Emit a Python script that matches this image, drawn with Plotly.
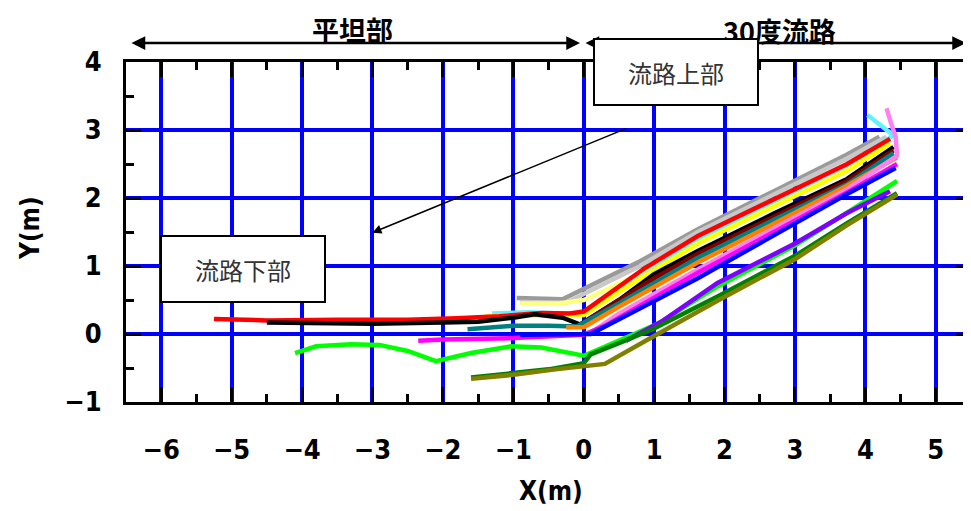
import plotly.graph_objects as go

# ---- data ----
gray_x = [-0.95, -0.6, -0.3, 0.8, 1.62, 2.7, 3.74, 4.2]
gray_y = [0.53, 0.52, 0.51, 1.07, 1.54, 2.1, 2.64, 2.9]
silver_x = [-0.9, -0.25, 0.8, 1.62, 2.7, 3.74, 4.3]
silver_y = [0.47, 0.46, 1.0, 1.5, 2.05, 2.58, 2.9]
red_x = [-5.25, -4.5, -3.5, -2.5, -1.8, -1.2, -0.6, -0.2, 0.0, 0.87, 1.62, 2.7, 3.74, 4.35]
red_y = [0.22, 0.2, 0.21, 0.21, 0.23, 0.26, 0.31, 0.3, 0.33, 0.97, 1.44, 1.98, 2.5, 2.87]
cyan_x = [-1.3, -0.8, -0.3, 0.0, 1.0, 1.62, 2.7, 3.74, 4.4, 4.27, 4.03]
cyan_y = [0.3, 0.32, 0.3, 0.3, 0.95, 1.4, 1.95, 2.48, 2.92, 3.02, 3.22]
ltyellow_x = [-0.9, -0.35, 0.0, 1.0, 1.62, 2.7, 3.74, 4.35]
ltyellow_y = [0.45, 0.45, 0.5, 0.98, 1.36, 1.9, 2.42, 2.8]
yellow_x = [-1.4, -0.8, -0.3, 0.0, 0.5, 1.62, 2.7, 3.74, 4.35]
yellow_y = [0.26, 0.27, 0.27, 0.28, 0.62, 1.33, 1.88, 2.4, 2.8]
black_x = [-4.5, -4.0, -3.0, -2.0, -1.5, -1.0, -0.7, -0.3, -0.05, 0.5, 1.0, 1.62, 2.7, 3.74, 4.4]
black_y = [0.17, 0.16, 0.15, 0.17, 0.18, 0.24, 0.29, 0.24, 0.14, 0.5, 0.88, 1.22, 1.77, 2.28, 2.75]
maroon_x = [0.0, 1.0, 1.62, 2.7, 3.74, 4.4]
maroon_y = [0.17, 0.82, 1.18, 1.73, 2.25, 2.7]
teal_x = [-1.65, -1.3, -1.0, -0.5, -0.1, 0.5, 1.62, 2.7, 3.74, 4.4]
teal_y = [0.07, 0.09, 0.12, 0.12, 0.11, 0.45, 1.12, 1.68, 2.2, 2.66]
orange_x = [-0.25, 0.0, 0.5, 1.62, 2.7, 3.74, 4.45]
orange_y = [0.1, 0.1, 0.4, 1.05, 1.62, 2.18, 2.6]
pink_x = [0.1, 0.5, 1.62, 2.7, 3.74, 4.45, 4.43, 4.38, 4.3]
pink_y = [0.02, 0.3, 0.95, 1.55, 2.13, 2.62, 2.9, 3.05, 3.32]
magenta_x = [-2.35, -2.0, -1.0, -0.5, 0.0, 0.3, 1.62, 2.7, 3.74, 4.45]
magenta_y = [-0.1, -0.08, -0.06, -0.03, -0.01, 0.12, 0.9, 1.5, 2.08, 2.5]
blue_x = [-0.9, 0.1, 1.62, 2.7, 3.74, 4.43]
blue_y = [-0.01, 0.0, 0.82, 1.45, 2.06, 2.44]
lime_x = [-4.1, -3.8, -3.3, -2.9, -2.5, -2.1, -1.6, -1.03, -0.6, -0.2, 0.0, 1.05, 1.9, 3.0, 3.74, 4.45]
lime_y = [-0.28, -0.18, -0.15, -0.16, -0.25, -0.4, -0.28, -0.18, -0.2, -0.28, -0.32, 0.15, 0.7, 1.3, 1.78, 2.25]
purple_x = [0.6, 1.1, 1.9, 3.0, 3.74, 4.35]
purple_y = [-0.1, 0.18, 0.75, 1.33, 1.78, 2.1]
dkgreen_x = [-1.6, -1.0, -0.5, 0.0, 0.1, 0.58, 1.0, 1.9, 3.0, 3.74, 4.45]
dkgreen_y = [-0.64, -0.57, -0.52, -0.43, -0.3, -0.1, 0.08, 0.55, 1.15, 1.63, 2.07]
olive_x = [-1.6, -1.0, -0.4, 0.3, 0.95, 1.9, 3.0, 3.74, 4.45]
olive_y = [-0.66, -0.6, -0.52, -0.44, -0.06, 0.49, 1.1, 1.6, 2.05]

series = [
    ("gray", gray_x, gray_y, "#9A9A9A"),
    ("silver", silver_x, silver_y, "#C8C8C8"),
    ("lightyellow", ltyellow_x, ltyellow_y, "#FFFF80"),
    ("cyan", cyan_x, cyan_y, "#66F0FF"),
    ("yellow", yellow_x, yellow_y, "#FFFF00"),
    ("red", red_x, red_y, "#FF0000"),
    ("black", black_x, black_y, "#000000"),
    ("maroon", maroon_x, maroon_y, "#800000"),
    ("teal", teal_x, teal_y, "#008080"),
    ("orange", orange_x, orange_y, "#FF8000"),
    ("pink", pink_x, pink_y, "#FF80F0"),
    ("magenta", magenta_x, magenta_y, "#FF00FF"),
    ("blue", blue_x, blue_y, "#0000FF"),
    ("lime", lime_x, lime_y, "#00FF00"),
    ("purple", purple_x, purple_y, "#8000FF"),
    ("darkgreen", dkgreen_x, dkgreen_y, "#008000"),
    ("olive", olive_x, olive_y, "#808000"),
]

x_ticks = [-6, -5, -4, -3, -2, -1, 0, 1, 2, 3, 4, 5]
y_ticks = [-1, 0, 1, 2, 3, 4]

fig = go.Figure()
for name, xs, ys, col in series:
    fig.add_trace(go.Scatter(x=xs, y=ys, mode="lines", name=name,
                             line=dict(color=col, width=4.5), showlegend=False))

NARROW = "DejaVu Sans Condensed, Liberation Sans Narrow, Liberation Sans, Arial"
tickfont = dict(family=NARROW, size=27, color="black", weight="bold")
axis_common = dict(
    showline=True, linecolor="black", linewidth=3, mirror="ticks",
    ticks="inside", ticklen=15, tickwidth=3, tickcolor="black",
    showgrid=True, gridcolor="#0000FF", gridwidth=4, zeroline=False,
    tickfont=tickfont, automargin=False,
    minor=dict(ticks="inside", ticklen=8, tickwidth=3, tickcolor="black",
               dtick=0.5, showgrid=False),
)

fig.update_xaxes(range=[-6.5, 5.5], tickvals=x_ticks,
                 ticktext=[str(v).replace("-", "−") for v in x_ticks],
                 ticklabelstandoff=22, **axis_common)
fig.update_yaxes(range=[-1, 4], tickvals=y_ticks,
                 ticktext=[str(v).replace("-", "−") for v in y_ticks],
                 ticklabelstandoff=16, **axis_common)

# page has an 8px body margin: figure origin sits at page (8, 8)
OFF = 8
W, H = 963, 503
L, T = 126 - OFF, 62 - OFF          # plot left/top in figure px
R = W - (971 - OFF)                  # plot right edge at page x=971
B = H - (402 - OFF)                  # plot bottom at page y=402
PW = W - L - R
PH = H - T - B

def px(xp):  # page x -> paper
    return (xp - OFF - L) / PW

def py(yp):  # page y -> paper
    return (H - B - (yp - OFF)) / PH

ann = []
# axis titles
title_font = dict(family=NARROW, size=26, color="black", weight="bold")
ann.append(dict(xref="paper", yref="paper", x=px(551), y=py(491), text="X(m)",
                xanchor="center", yanchor="middle", showarrow=False, font=title_font))
ann.append(dict(xref="paper", yref="paper", x=px(30), y=py(228), text="Y(m)",
                xanchor="center", yanchor="middle", showarrow=False, font=title_font,
                textangle=-90))
# region arrows on top
ann.append(dict(xref="paper", yref="paper", x=px(580), y=py(43), ax=-450, ay=0,
                axref="pixel", ayref="pixel", showarrow=True, arrowhead=2, arrowsize=1.1,
                arrowwidth=2.5, arrowcolor="black", arrowside="end+start", text=""))
ann.append(dict(xref="paper", yref="paper", x=px(966), y=py(43), ax=-382, ay=0,
                axref="pixel", ayref="pixel", showarrow=True, arrowhead=2, arrowsize=1.1,
                arrowwidth=2.5, arrowcolor="black", arrowside="end+start", text=""))
cjk_bold = dict(family="Noto Sans CJK JP", size=27, color="black", weight="bold")
ann.append(dict(xref="paper", yref="paper", x=px(352), y=py(8), text="平坦部",
                xanchor="center", yanchor="top", showarrow=False, font=cjk_bold))
ann.append(dict(xref="paper", yref="paper", x=px(779), y=py(9), text="30度流路",
                xanchor="center", yanchor="top", showarrow=False, font=cjk_bold))
# pointer arrow
ann.append(dict(xref="x", yref="y", x=-3.0, y=1.49, axref="x", ayref="y", ax=0.62, ay=3.03,
                showarrow=True, arrowhead=2, arrowsize=1.2, arrowwidth=1.5,
                arrowcolor="black", text=""))
# text boxes
box_font = dict(family="Noto Sans CJK JP", size=24, color="#333333")
ann.append(dict(xref="paper", yref="paper", x=px(676), y=py(72), text="流路上部",
                xanchor="center", yanchor="middle",
                showarrow=False, font=box_font, bgcolor="white", bordercolor="black",
                borderwidth=2, width=162, height=64, borderpad=0))
ann.append(dict(xref="paper", yref="paper", x=px(243), y=py(269), text="流路下部",
                xanchor="center", yanchor="middle",
                showarrow=False, font=box_font, bgcolor="white", bordercolor="black",
                borderwidth=2, width=162, height=64, borderpad=0))

fig.update_layout(
    width=W, height=H,
    margin=dict(l=L, r=R, t=T, b=B, autoexpand=False),
    paper_bgcolor="white", plot_bgcolor="white",
    annotations=ann,
)

fig.write_html("out.html")
